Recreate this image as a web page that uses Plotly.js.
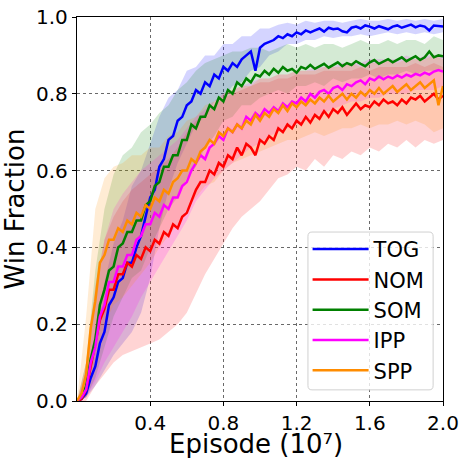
<!DOCTYPE html>
<html><head><meta charset="utf-8">
<script src="https://cdn.plot.ly/plotly-3.0.1.min.js"></script>
<style>html,body{margin:0;padding:0;background:#fff}#chart{width:462px;height:458px}</style>
</head><body><div id="chart"></div>
<script>
// Episode (units of 1e7)
var episode = [0,0.025,0.05,0.075,0.1,0.125,0.15,0.175,0.2,0.225,0.25,0.275,0.3,0.325,0.35,0.375,0.4,0.425,0.45,0.475,0.5,0.525,0.55,0.575,0.6,0.625,0.65,0.675,0.7,0.725,0.75,0.775,0.8,0.825,0.85,0.875,0.9,0.925,0.95,0.975,1.0,1.025,1.05,1.075,1.1,1.125,1.15,1.175,1.2,1.225,1.25,1.275,1.3,1.325,1.35,1.375,1.4,1.425,1.45,1.475,1.5,1.525,1.55,1.575,1.6,1.625,1.65,1.675,1.7,1.725,1.75,1.775,1.8,1.825,1.85,1.875,1.9,1.925,1.95,1.975,2.0];
var bandEpisode = [0,0.05,0.1,0.15,0.2,0.25,0.3,0.35,0.4,0.45,0.5,0.55,0.6,0.65,0.7,0.75,0.8,0.85,0.9,0.95,1.0,1.05,1.1,1.15,1.2,1.25,1.3,1.35,1.4,1.45,1.5,1.55,1.6,1.65,1.7,1.75,1.8,1.85,1.9,1.95,2.0];

var TOG = [0,0.005,0.02,0.06,0.09,0.15,0.18,0.25,0.27,0.31,
0.32,0.36,0.36,0.40,0.43,0.48,0.53,0.55,0.61,0.63,
0.68,0.69,0.73,0.74,0.77,0.78,0.81,0.80,0.83,0.82,
0.85,0.84,0.87,0.86,0.88,0.87,0.89,0.90,0.91,0.86,
0.92,0.93,0.935,0.94,0.95,0.945,0.955,0.95,0.96,0.955,
0.965,0.96,0.965,0.97,0.962,0.972,0.968,0.97,0.963,0.96,
0.972,0.975,0.97,0.978,0.975,0.97,0.976,0.972,0.968,0.975,
0.978,0.972,0.976,0.98,0.973,0.978,0.975,0.965,0.978,0.976,
0.975];
var NOM = [0,0.005,0.03,0.09,0.14,0.21,0.24,0.29,0.29,0.33,
0.33,0.36,0.35,0.38,0.37,0.40,0.39,0.42,0.41,0.44,
0.43,0.46,0.45,0.48,0.49,0.52,0.55,0.57,0.57,0.60,
0.59,0.62,0.61,0.64,0.63,0.66,0.64,0.67,0.66,0.64,
0.68,0.67,0.69,0.68,0.71,0.70,0.72,0.71,0.73,0.72,
0.74,0.725,0.745,0.735,0.755,0.74,0.76,0.75,0.765,0.745,
0.76,0.775,0.76,0.77,0.765,0.78,0.77,0.785,0.775,0.78,
0.77,0.785,0.775,0.79,0.785,0.795,0.78,0.79,0.80,0.785,
0.795];
var SOM = [0,0.01,0.04,0.11,0.16,0.25,0.29,0.34,0.35,0.40,
0.41,0.44,0.44,0.47,0.47,0.51,0.52,0.56,0.57,0.61,
0.61,0.64,0.64,0.68,0.68,0.72,0.71,0.74,0.74,0.77,
0.76,0.79,0.78,0.81,0.80,0.83,0.82,0.84,0.83,0.85,
0.845,0.86,0.85,0.865,0.855,0.87,0.86,0.865,0.855,0.87,
0.865,0.875,0.865,0.872,0.878,0.868,0.875,0.882,0.872,0.88,
0.875,0.885,0.878,0.872,0.882,0.888,0.878,0.885,0.89,0.882,
0.888,0.895,0.885,0.892,0.898,0.888,0.895,0.91,0.895,0.9,
0.898];
var IPP = [0,0.01,0.03,0.10,0.14,0.22,0.25,0.31,0.31,0.35,
0.35,0.38,0.38,0.42,0.43,0.46,0.46,0.49,0.48,0.51,
0.50,0.53,0.53,0.56,0.57,0.60,0.62,0.64,0.63,0.66,
0.67,0.69,0.68,0.71,0.70,0.72,0.71,0.74,0.73,0.75,
0.74,0.76,0.75,0.765,0.755,0.775,0.765,0.78,0.775,0.79,
0.78,0.80,0.79,0.805,0.81,0.80,0.815,0.82,0.81,0.825,
0.82,0.83,0.835,0.825,0.84,0.835,0.845,0.838,0.845,0.84,
0.848,0.842,0.85,0.845,0.852,0.848,0.855,0.85,0.858,0.862,
0.858];
var SPP = [0,0.02,0.07,0.19,0.26,0.36,0.38,0.42,0.42,0.45,
0.44,0.47,0.46,0.49,0.48,0.51,0.50,0.53,0.52,0.55,
0.54,0.57,0.58,0.60,0.60,0.63,0.62,0.65,0.66,0.68,
0.67,0.70,0.69,0.71,0.70,0.72,0.71,0.73,0.72,0.745,
0.73,0.75,0.74,0.76,0.75,0.77,0.755,0.775,0.765,0.78,
0.77,0.785,0.775,0.79,0.78,0.795,0.78,0.79,0.80,0.785,
0.80,0.79,0.805,0.795,0.81,0.80,0.815,0.80,0.81,0.82,
0.805,0.815,0.825,0.81,0.82,0.83,0.815,0.825,0.835,0.77,
0.82];

var TOG_lo = [0,0.01,0.04,0.08,0.12,0.15,0.18,0.23,0.32,0.45,0.55,0.62,0.67,0.72,0.74,0.78,0.79,0.82,0.83,0.86,0.87,0.90,0.91,0.93,0.93,0.94,0.94,0.95,0.945,0.95,0.95,0.955,0.95,0.955,0.96,0.955,0.96,0.955,0.96,0.955,0.96];
var TOG_hi = [0,0.04,0.19,0.31,0.41,0.47,0.56,0.60,0.67,0.74,0.79,0.81,0.86,0.87,0.90,0.90,0.93,0.93,0.95,0.95,0.97,0.97,0.98,0.985,0.98,0.99,0.985,0.99,0.99,0.985,0.99,0.995,0.99,0.99,0.995,0.99,0.995,0.99,0.995,0.99,0.995];
var NOM_lo = [0,0.00,0.04,0.07,0.10,0.12,0.13,0.14,0.15,0.16,0.18,0.20,0.23,0.28,0.33,0.37,0.41,0.45,0.48,0.50,0.52,0.55,0.58,0.59,0.61,0.60,0.63,0.61,0.64,0.63,0.65,0.64,0.66,0.65,0.67,0.66,0.68,0.66,0.68,0.67,0.68];
var NOM_hi = [0,0.10,0.30,0.42,0.48,0.52,0.55,0.57,0.59,0.61,0.63,0.66,0.70,0.73,0.75,0.77,0.79,0.80,0.81,0.82,0.83,0.83,0.84,0.84,0.85,0.85,0.85,0.86,0.86,0.86,0.86,0.87,0.86,0.87,0.87,0.87,0.87,0.88,0.87,0.88,0.87];
var SOM_lo = [0,0.01,0.06,0.14,0.22,0.27,0.32,0.34,0.40,0.45,0.50,0.53,0.58,0.61,0.66,0.69,0.73,0.74,0.77,0.77,0.79,0.80,0.81,0.80,0.82,0.82,0.83,0.82,0.84,0.83,0.84,0.84,0.85,0.84,0.85,0.85,0.86,0.85,0.86,0.86,0.86];
var SOM_hi = [0,0.10,0.34,0.50,0.59,0.64,0.66,0.70,0.72,0.75,0.77,0.81,0.83,0.86,0.88,0.89,0.90,0.91,0.91,0.92,0.92,0.91,0.92,0.93,0.92,0.93,0.92,0.93,0.93,0.92,0.93,0.94,0.93,0.93,0.94,0.93,0.94,0.94,0.93,0.95,0.94];
var IPP_lo = [0,0.01,0.05,0.10,0.14,0.18,0.22,0.27,0.31,0.35,0.39,0.43,0.47,0.52,0.55,0.58,0.60,0.62,0.64,0.66,0.67,0.69,0.70,0.71,0.72,0.73,0.74,0.75,0.76,0.77,0.78,0.78,0.79,0.79,0.80,0.80,0.80,0.81,0.81,0.81,0.82];
var IPP_hi = [0,0.08,0.28,0.42,0.50,0.54,0.57,0.60,0.62,0.64,0.66,0.68,0.71,0.74,0.76,0.78,0.80,0.81,0.82,0.83,0.84,0.84,0.85,0.85,0.86,0.86,0.87,0.87,0.87,0.88,0.88,0.88,0.89,0.89,0.89,0.89,0.90,0.89,0.90,0.90,0.90];
var SPP_lo = [0,0.01,0.10,0.20,0.25,0.27,0.30,0.33,0.36,0.40,0.43,0.46,0.50,0.53,0.56,0.57,0.60,0.62,0.63,0.64,0.65,0.66,0.67,0.68,0.68,0.69,0.70,0.69,0.70,0.71,0.71,0.72,0.71,0.72,0.72,0.73,0.72,0.73,0.72,0.70,0.71];
var SPP_hi = [0,0.22,0.50,0.58,0.61,0.62,0.64,0.64,0.66,0.66,0.69,0.70,0.73,0.74,0.77,0.78,0.80,0.81,0.82,0.82,0.84,0.84,0.85,0.85,0.86,0.86,0.86,0.87,0.87,0.87,0.88,0.87,0.88,0.88,0.89,0.88,0.89,0.89,0.89,0.90,0.89];

var names = ['TOG','NOM','SOM','IPP','SPP'];
var means = [TOG, NOM, SOM, IPP, SPP];
var lows = [TOG_lo, NOM_lo, SOM_lo, IPP_lo, SPP_lo];
var highs = [TOG_hi, NOM_hi, SOM_hi, IPP_hi, SPP_hi];
var colors = ['#0000ff','#ff0000','#008000','#ff00ff','#ff8c00'];
var fills = ['rgba(0,0,255,0.17)','rgba(255,0,0,0.17)','rgba(0,128,0,0.17)','rgba(255,0,255,0.17)','rgba(255,140,0,0.17)'];

var traces = [];
for (var k = 0; k < names.length; k++) {
  var bx = bandEpisode.concat(bandEpisode.slice().reverse());
  var by = highs[k].concat(lows[k].slice().reverse());
  traces.push({x: bx, y: by, type: 'scatter', mode: 'lines', fill: 'toself',
    fillcolor: fills[k], line: {width: 0, color: fills[k]}, showlegend: false, hoverinfo: 'skip'});
}
for (var k = 0; k < names.length; k++) {
  traces.push({x: episode, y: means[k], type: 'scatter', mode: 'lines', name: names[k],
    legendgroup: 'g' + k, line: {color: colors[k], width: 2.5}});
}

var font = 'DejaVu Sans, sans-serif';
var layout = {
  width: 462, height: 458,
  margin: {l: 77, r: 19, t: 17, b: 57},
  paper_bgcolor: '#fff', plot_bgcolor: '#fff',
  font: {family: font, color: '#000', size: 20},
  showlegend: true,
  xaxis: {
    range: [0, 2.0], tickvals: [0.4, 0.8, 1.2, 1.6, 2.0], ticktext: ['0.4','0.8','1.2','1.6','2.0'],
    showline: true, mirror: true, linecolor: '#000', linewidth: 1.2,
    showgrid: true, gridcolor: '#444', griddash: 'dot', gridwidth: 0.8,
    zeroline: false, ticks: 'outside', ticklen: 4, tickcolor: '#000', tickwidth: 1,
    tickfont: {size: 20, family: font}
  },
  yaxis: {
    range: [0, 1.0], tickvals: [0, 0.2, 0.4, 0.6, 0.8, 1.0], ticktext: ['0.0','0.2','0.4','0.6','0.8','1.0'],
    showline: true, mirror: true, linecolor: '#000', linewidth: 1.2,
    showgrid: true, gridcolor: '#444', griddash: 'dot', gridwidth: 0.8,
    zeroline: false, ticks: 'outside', ticklen: 4, tickcolor: '#000', tickwidth: 1,
    tickfont: {size: 20, family: font},
    title: {text: 'Win Fraction', font: {size: 26, family: font}, standoff: 4}
  },
  annotations: [{
    text: 'Episode (10\u2077)', xref: 'paper', yref: 'paper', x: 0.49, y: -0.1536,
    xanchor: 'center', yanchor: 'bottom', showarrow: false, borderpad: 0,
    font: {size: 26, family: font, color: '#000'}
  }],
  shapes: [{
    type: 'path', xref: 'paper', yref: 'paper', layer: 'above',
    path: 'M 0.642,0.029 L 0.962,0.029 Q 0.973,0.029 0.973,0.040 L 0.973,0.429 Q 0.973,0.440 0.962,0.440 L 0.642,0.440 Q 0.631,0.440 0.631,0.429 L 0.631,0.040 Q 0.631,0.029 0.642,0.029 Z',
    fillcolor: 'rgba(255,255,255,0.8)', line: {color: '#d0d0d0', width: 1}
  }],
  legend: {
    x: 0.63, y: 0.448, xanchor: 'left', yanchor: 'top',
    traceorder: 'grouped', tracegroupgap: 0, itemwidth: 56,
    bgcolor: 'rgba(0,0,0,0)', borderwidth: 0,
    font: {size: 21, family: font}
  }
};
Plotly.newPlot('chart', traces, layout, {displayModeBar: false, staticPlot: true});
</script>
</body></html>
